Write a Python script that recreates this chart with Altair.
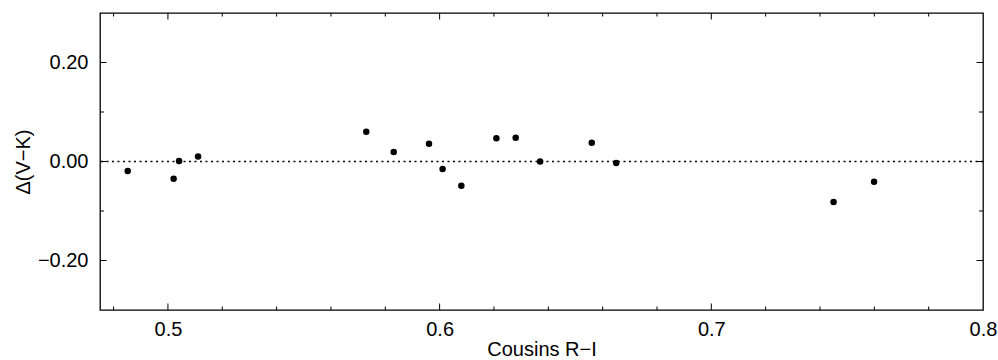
import altair as alt
import pandas as pd

# data
cousins_ri = [0.4852, 0.5021, 0.5041, 0.5111, 0.5730, 0.5831, 0.5961, 0.6011,
              0.6080, 0.6209, 0.6280, 0.6370, 0.6560, 0.6650, 0.7450, 0.7599]
delta_vk = [-0.019, -0.035, 0.001, 0.010, 0.060, 0.019, 0.036, -0.015,
            -0.049, 0.047, 0.048, 0.000, 0.038, -0.003, -0.082, -0.041]
zero_line = [0.0]

x_major = [0.5, 0.6, 0.7]
x_minor = [0.48, 0.52, 0.54, 0.56, 0.58, 0.62, 0.64, 0.66, 0.68, 0.72, 0.74, 0.76, 0.78]
y_major = [-0.2, 0.0, 0.2]
y_minor = [-0.1, 0.1]

W, H = 883, 297
FONT = "Liberation Sans"

pts = pd.DataFrame({"x": cousins_ri, "y": delta_vk})
xs = alt.Scale(domain=[0.475, 0.8], nice=False, zero=False)
ys = alt.Scale(domain=[-0.3, 0.3], nice=False, zero=False)

x_axis = alt.Axis(values=[0.5, 0.6, 0.7, 0.8], format=".1f", ticks=False, tickSize=0,
                  domain=False, grid=False, labelPadding=9, labelFontSize=20,
                  labelFont=FONT, labelColor="black", title="Cousins R−I",
                  titleFont=FONT, titleFontSize=20, titleFontWeight="normal",
                  titleColor="black", titlePadding=0, labelFlush=False)
y_axis = alt.Axis(values=y_major, format=".2f", ticks=False, tickSize=0, domain=False,
                  grid=False, labelPadding=12, labelFontSize=20, labelFont=FONT,
                  labelColor="black", title="Δ(V−K)", titleFont=FONT, titleFontSize=20,
                  titleFontWeight="normal", titleColor="black", titlePadding=4)

X = lambda: alt.X("x:Q", scale=xs, axis=x_axis)
Y = lambda: alt.Y("y:Q", scale=ys, axis=y_axis)

points = alt.Chart(pts).mark_circle(size=42, color="black", opacity=1).encode(x=X(), y=Y())

zl = alt.Chart(pd.DataFrame({"y": zero_line})).mark_rule(
    color="black", strokeWidth=1.5, strokeDash=[2, 3.5]).encode(y=Y())

def xticks(vals, length):
    d = pd.DataFrame({"x": vals})
    base = alt.Chart(d).mark_rule(color="black", strokeWidth=1)
    return (base.encode(x=X(), y=alt.value(H), y2=alt.value(H - length)) +
            base.encode(x=X(), y=alt.value(0), y2=alt.value(length)))

def yticks(vals, length):
    d = pd.DataFrame({"y": vals})
    base = alt.Chart(d).mark_rule(color="black", strokeWidth=1)
    return (base.encode(y=Y(), x=alt.value(0), x2=alt.value(length)) +
            base.encode(y=Y(), x=alt.value(W), x2=alt.value(W - length)))

chart = alt.layer(
    zl, xticks(x_major, 6.5), xticks(x_minor, 3.5),
    yticks(y_major, 6.5), yticks(y_minor, 4), points
).properties(
    width=W, height=H,
    background="white",
    autosize=alt.AutoSizeParams(type="none"),
    padding={"left": 100, "top": 13, "right": 15, "bottom": 50},
).configure_view(stroke="black", strokeWidth=1.3)

chart.save("out.html", embed_options={"renderer": "svg", "actions": False})
